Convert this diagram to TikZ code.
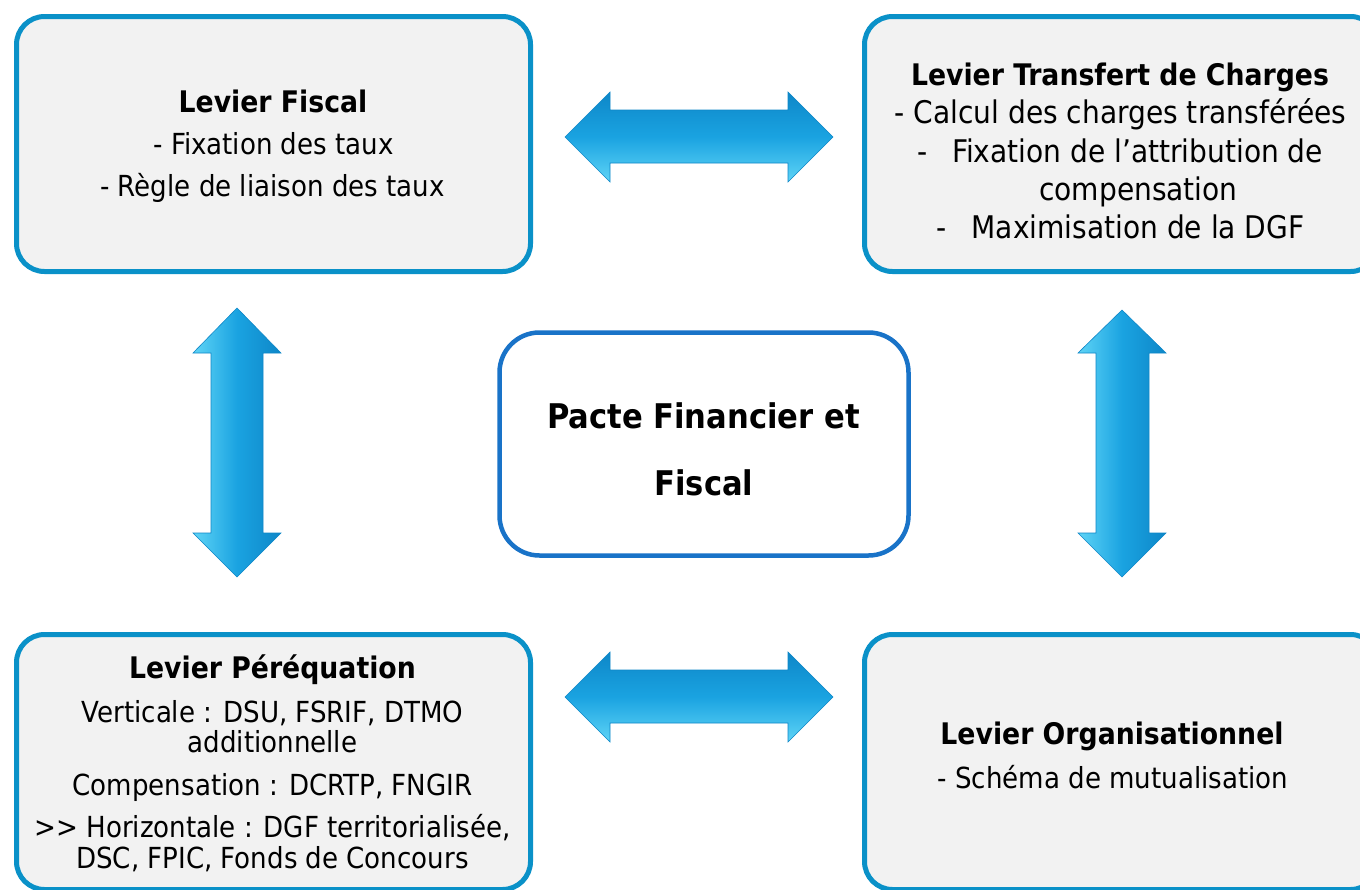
\documentclass[tikz,border=0pt]{standalone}
\usepackage{fontspec}
\setmainfont{DejaVu Sans Condensed}
\definecolor{levblue}{RGB}{10,145,200}
\definecolor{ctrblue}{RGB}{25,115,200}
\definecolor{boxgray}{RGB}{242,242,242}
\definecolor{arrdark}{RGB}{14,135,200}
\definecolor{arrmid}{RGB}{26,163,225}
\definecolor{arrlight}{RGB}{95,212,246}
\begin{document}
\begin{tikzpicture}[x=1pt,y=-1pt,
  lever/.style={draw=levblue, line width=5pt, fill=boxgray, rounded corners=28pt, rectangle, inner sep=0pt},
  center/.style={draw=ctrblue, line width=4.5pt, fill=white, rounded corners=40pt, rectangle, inner sep=0pt},
  ttl/.style={anchor=base, inner sep=0pt, font=\fontsize{29.7}{34}\selectfont\bfseries},
  txt/.style={anchor=base, inner sep=0pt, font=\fontsize{29}{34}\selectfont},
  txtb/.style={anchor=base, inner sep=0pt, font=\fontsize{31.2}{36}\selectfont},
  ctxt/.style={anchor=base, inner sep=0pt, font=\fontsize{34}{40}\selectfont\bfseries},
  harrow/.style={draw=arrdark, line width=0.6pt, top color=arrdark, bottom color=arrlight, middle color=arrmid},
  varrow/.style={draw=arrdark, line width=0.6pt, left color=arrlight, right color=arrdark, middle color=arrmid}
]
\clip (0,0) rectangle (1360,889);
\fill[white] (0,0) rectangle (1360,889);

% boxes
\node[lever, minimum width=514pt, minimum height=255pt] (fisc) at (273.5,144) {};
\node[lever, minimum width=514pt, minimum height=255pt] (trans) at (1121.5,144) {};
\node[lever, minimum width=514pt, minimum height=255pt] (pereq) at (273.5,762) {};
\node[lever, minimum width=514pt, minimum height=255pt] (orga) at (1121.5,762) {};
\node[center, minimum width=409pt, minimum height=223pt] (pacte) at (704,444) {};

% arrows
\draw[harrow] (565,137) -- (610,92) -- (610,110) -- (788,110) -- (788,92) -- (833,137)
  -- (788,182) -- (788,163) -- (610,163) -- (610,182) -- cycle;
\draw[harrow] (565,697) -- (610,652) -- (610,670) -- (788,670) -- (788,652) -- (833,697)
  -- (788,742) -- (788,723) -- (610,723) -- (610,742) -- cycle;
\draw[varrow] (237,308) -- (281,353) -- (263,353) -- (263,533) -- (281,533) -- (237,577)
  -- (193,533) -- (211,533) -- (211,353) -- (193,353) -- cycle;
\draw[varrow] (1122,310) -- (1166,353) -- (1149,353) -- (1149,533) -- (1166,533) -- (1122,577)
  -- (1078,533) -- (1096,533) -- (1096,353) -- (1078,353) -- cycle;

% texts top-left
\node[ttl] (f1) at (273,112) {Levier Fiscal};
\node[txt] (f2) at (273.5,154) {- Fixation des taux};
\node[txt] (f3) at (272.5,196) {- Règle de liaison des taux};

% texts top-right
\node[ttl] (t1) at (1120,85) {Levier Transfert de Charges};
\node[txtb] (t2) at (1120.5,123) {- Calcul des charges transférées};
\node[txtb] (t3) at (1120,162) {-\hspace{0.8em}Fixation de l’attribution de};
\node[txtb] (t4) at (1138.5,200) {compensation};
\node[txtb] (t5) at (1120.5,238) {-\hspace{0.8em}Maximisation de la DGF};

% center
\node[ctxt] (c1) at (703.5,428) {Pacte Financier et};
\node[ctxt] (c2) at (704,495) {Fiscal};

% bottom-left
\node[ttl] (p1) at (272.5,678) {Levier Péréquation};
\node[txt] (p2) at (272.5,722) {Verticale : DSU, FSRIF, DTMO};
\node[txt] (p3) at (272.5,752) {additionnelle};
\node[txt] (p4) at (272.5,795) {Compensation : DCRTP, FNGIR};
\node[txt] (p5) at (272.5,837) {>\kern0pt> Horizontale : DGF territorialisée,};
\node[txt] (p6) at (272.5,868) {DSC, FPIC, Fonds de Concours};

% bottom-right
\node[ttl] (o1) at (1112,744) {Levier Organisationnel};
\node[txt] (o2) at (1113,788) {- Schéma de mutualisation};
\end{tikzpicture}
\end{document}
